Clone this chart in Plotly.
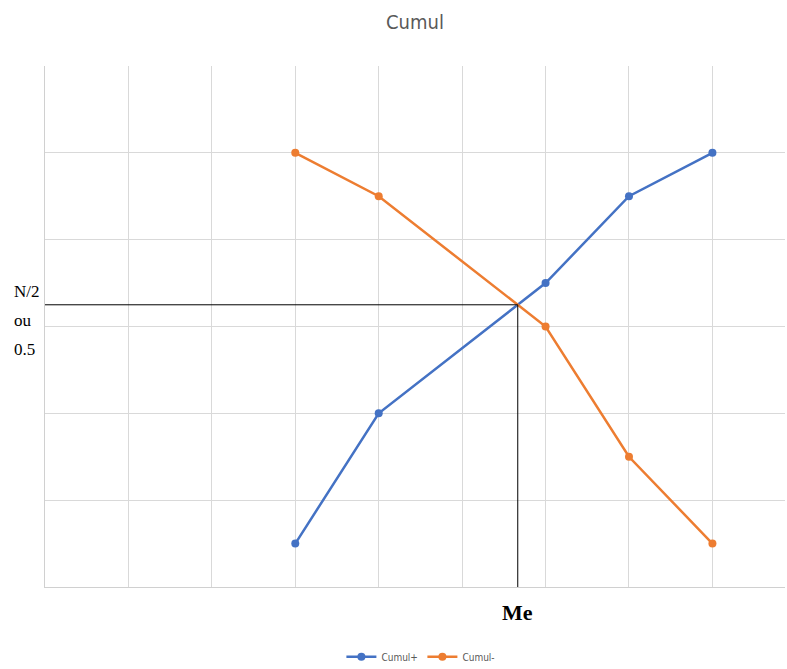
import plotly.graph_objects as go

# Data
x_plus = [3, 4, 6, 7, 8]
cumul_plus = [0.5, 2.0, 3.5, 4.5, 5.0]
x_minus = [3, 4, 6, 7, 8]
cumul_minus = [5.0, 4.5, 3.0, 1.5, 0.5]
y_ticks = [0, 1, 2, 3, 4, 5, 6]
x_ticks = [0, 1, 2, 3, 4, 5, 6, 7, 8]
left_labels = ["N/2", "ou", "0.5"]

# Median: intersection of the segments between x=4 and x=6
x1, x2 = x_plus[1], x_plus[2]
a1 = (cumul_plus[2] - cumul_plus[1]) / (x2 - x1)
a2 = (cumul_minus[2] - cumul_minus[1]) / (x2 - x1)
xm = x1 + (cumul_minus[1] - cumul_plus[1]) / (a1 - a2)
ym = cumul_plus[1] + a1 * (xm - x1)

BLUE = "#4472C4"
ORANGE = "#ED7D31"
NARROW = "DejaVu Sans Condensed, Liberation Sans Narrow, Arial Narrow, sans-serif"

fig = go.Figure()
fig.add_trace(go.Scatter(x=x_plus, y=cumul_plus, mode="lines+markers", name="Cumul+",
                         line=dict(color=BLUE, width=2.5), marker=dict(size=8, color=BLUE)))
fig.add_trace(go.Scatter(x=x_minus, y=cumul_minus, mode="lines+markers", name="Cumul-",
                         line=dict(color=ORANGE, width=2.5), marker=dict(size=8, color=ORANGE)))

# Median guide lines
fig.add_trace(go.Scatter(x=[0, xm, xm], y=[ym, ym, 0], mode="lines", showlegend=False,
                         line=dict(color="black", width=1), hoverinfo="skip"))

for i, lab in enumerate(left_labels):
    fig.add_annotation(x=0, y=ym, xref="x", yref="y", xanchor="left", xshift=-33,
                       yshift=13 - 29 * i, text=lab, showarrow=False,
                       font=dict(family="Liberation Serif", size=17, color="black"))
fig.add_annotation(x=xm, y=0, xref="x", yref="y", yanchor="middle", yshift=-25,
                   text="<b>Me</b>", showarrow=False,
                   font=dict(family="Liberation Serif", size=22, color="black"))

H = 669
fig.update_layout(
    width=787, height=H,
    margin=dict(l=45, r=2, t=66, b=82, autoexpand=False),
    paper_bgcolor="white", plot_bgcolor="white",
    title=dict(text="Cumul", x=0.5, xref="paper", xanchor="center", y=1 - 22 / H, yanchor="middle",
               font=dict(family=NARROW, size=20, color="#595959")),
    legend=dict(orientation="h", x=0.51, xanchor="center", y=-0.134, yanchor="middle",
                font=dict(family=NARROW, size=10, color="#595959"),
                entrywidth=36, itemwidth=30),
    showlegend=True,
)
fig.update_xaxes(range=[0, 8.87], tickvals=x_ticks, showticklabels=False, showgrid=True,
                 gridcolor="#D9D9D9", gridwidth=1, zeroline=False,
                 showline=True, linecolor="#D0D0D0", linewidth=1, mirror=False)
fig.update_yaxes(range=[0, 6], tickvals=y_ticks, showticklabels=False, showgrid=True,
                 gridcolor="#D9D9D9", gridwidth=1, zeroline=False,
                 showline=True, linecolor="#D0D0D0", linewidth=1)

fig.write_html("out.html", config={"displayModeBar": False},
               post_script="document.body.style.margin='0';document.body.style.overflow='hidden';")
